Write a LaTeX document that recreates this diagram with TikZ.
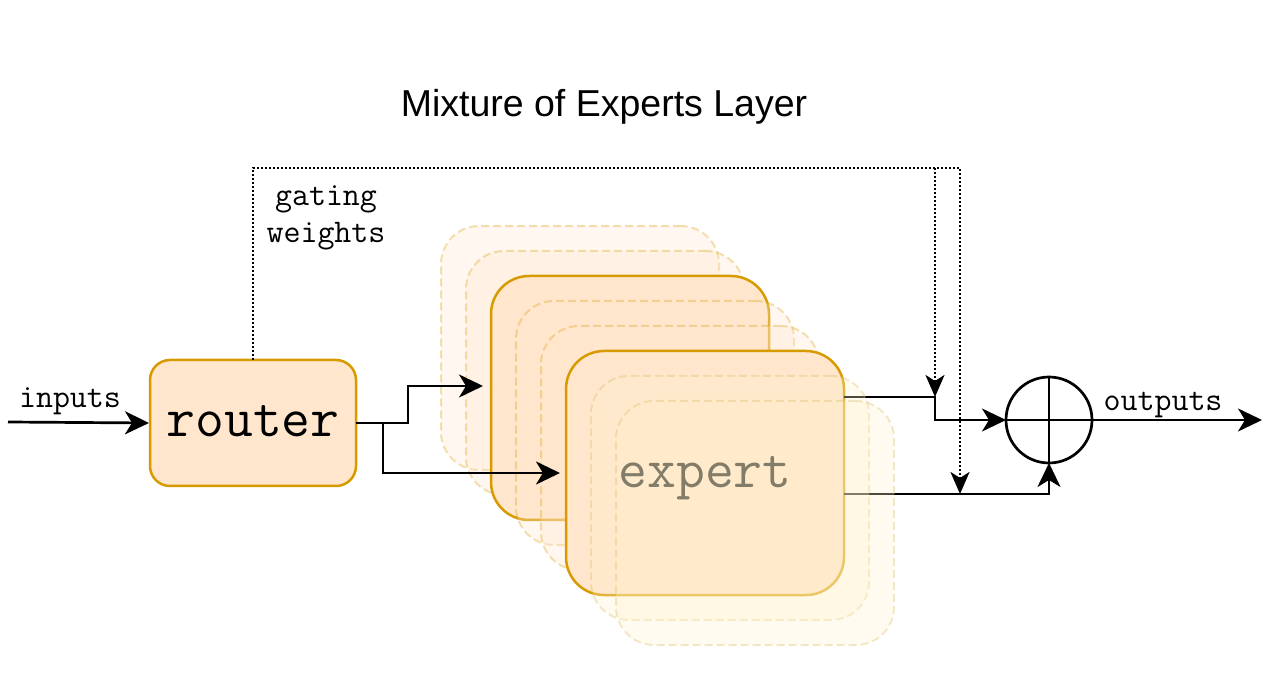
\documentclass[tikz,border=0pt]{standalone}
\usepackage{fontspec}
\setmainfont{Liberation Sans}
\usetikzlibrary{arrows.meta,calc}
\definecolor{oFill}{HTML}{FFE6CC}
\definecolor{oStroke}{HTML}{D79B00}
\definecolor{yFill}{HTML}{FFF2CC}
\definecolor{yStroke}{HTML}{D6B656}
\tikzset{
  solidbox/.style={rectangle, draw=oStroke, fill=oFill, line width=2.5pt, rounded corners=38pt,
    minimum width=278pt, minimum height=244pt, inner sep=0pt, outer sep=0pt},
  ghostbox/.style={rectangle, line width=2pt, dash pattern=on 8pt off 4pt, rounded corners=38pt,
    minimum width=278pt, minimum height=244pt, inner sep=0pt, outer sep=0pt, opacity=0.3},
  ghostO/.style={ghostbox, draw=oStroke, fill=oFill},
  ghostY/.style={ghostbox, draw=yStroke, fill=yFill},
  conn/.style={line width=2.7pt, black},
  arrowed/.style={conn, -{Stealth[length=24pt,width=23pt,inset=7pt]}},
  gate/.style={line width=2.6pt, dash pattern=on 2pt off 2pt, -{Stealth[length=22pt,width=19pt,inset=6pt]}},
  lbl/.style={font=\ttfamily\fontsize{33}{34}\selectfont, inner sep=0pt, anchor=base},
  bigtxt/.style={font=\ttfamily\fontsize{56}{58}\selectfont},
}
\begin{document}
\begin{tikzpicture}[x=1pt,y=-1pt]
\useasboundingbox (0,0) rectangle (1278,684);

% title
\node[font=\fontsize{37.5}{40}\selectfont, inner sep=0pt, anchor=base] (title) at (604,117) {Mixture of Experts Layer};

% router
\node[rectangle, draw=oStroke, fill=oFill, line width=2.5pt, rounded corners=20pt,
  minimum width=206pt, minimum height=126pt, inner sep=0pt, outer sep=0pt, bigtxt] (router) at (253,423) {\raisebox{-14pt}[0pt][0pt]{router}};

% expert stack
\node[ghostO] (g1) at (580,348) {};
\node[ghostO] (g2) at (605,373) {};
\node[solidbox] (ea) at (630,398) {};
\node[ghostO] (g3) at (655,423) {};
\node[ghostO] (g4) at (680,448) {};
\node[solidbox, bigtxt] (eb) at (705,473) {\raisebox{-15pt}[0pt][0pt]{expert}};

% sum node
\node[circle, draw, line width=2.7pt, minimum size=86pt, inner sep=0pt, outer sep=0pt] (sum) at (1049,420) {};
\draw[conn] (sum.north) -- (sum.south);
\draw[conn] (sum.west) -- (sum.east);

% junction coordinates
\coordinate (j1) at (935,397);
\coordinate (j2) at (960,494);
\coordinate (gTopIn) at (935,168);
\coordinate (gTopOut) at (960,168);

% expert outputs (under the front ghost boxes)
\draw[arrowed] ([yshift=76pt]eb.east) -- (j1) |- (sum.west);
\draw[arrowed] ([yshift=-21pt]eb.east) -| (sum.south);

\node[ghostY] (g5) at (730,498) {};
\node[ghostY] (g6) at (755,523) {};

% inputs
\coordinate (inL) at (8,422);
\draw[arrowed, shorten >=1pt] (inL) -- (router.west);
\node[lbl] (inlbl) at (70,408) {inputs};

% router to experts
\coordinate (aIn) at (491,386);
\draw[arrowed, shorten >=8pt] (router.east) -- ++(52,0) |- (aIn);
\draw[arrowed, shorten >=6pt] (router.east) -- ++(27,0) |- (eb.west);

% gating weights
\draw[gate] (router.north) |- (gTopOut) -- (j2);
\draw[gate] (gTopIn) -- (j1);
\node[lbl] (gat1) at (326,206) {gating};
\node[lbl] (gat2) at (326,243) {weights};

% output
\coordinate (outR) at (1262,420);
\draw[arrowed] (sum.east) -- (outR);
\node[lbl] (outlbl) at (1163,411) {outputs};
\end{tikzpicture}
\end{document}
